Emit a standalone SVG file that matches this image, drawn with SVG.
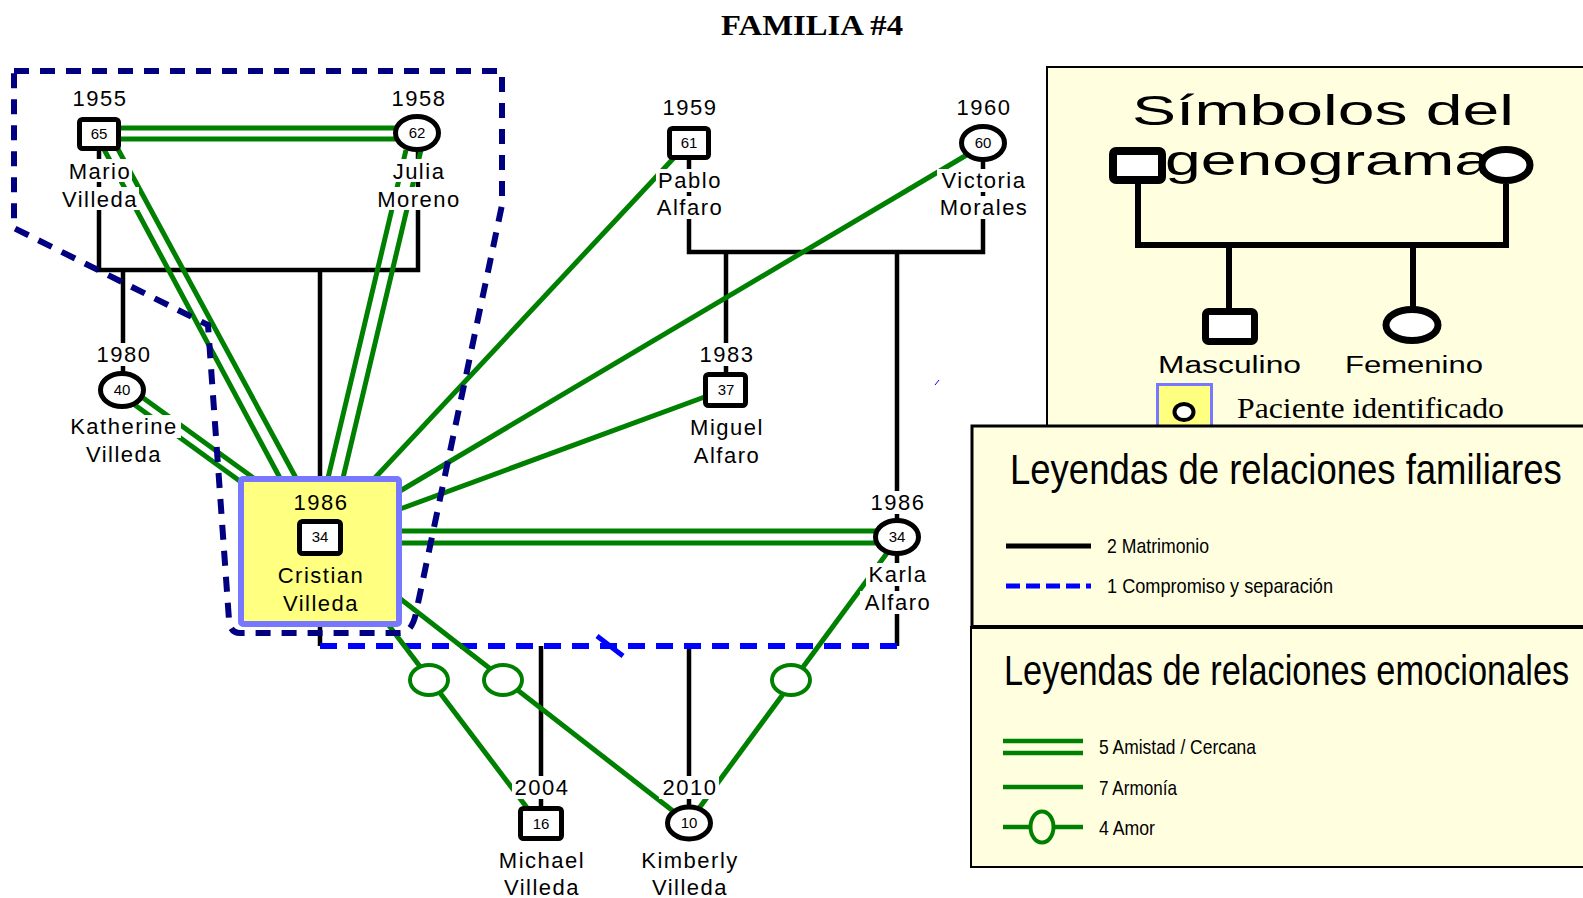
<svg xmlns="http://www.w3.org/2000/svg" width="1583" height="898" viewBox="0 0 1583 898">
<style>
.lbl{font-family:'Liberation Sans',Arial,sans-serif;font-size:22px;letter-spacing:1.5px;text-anchor:middle;fill:#000}
.age{font-family:'Liberation Sans',Arial,sans-serif;font-size:15px;text-anchor:middle;fill:#000}
.bg{fill:#fff}
.sq{fill:#fff;stroke:#000;stroke-width:5}
.ci{fill:#fff;stroke:#000;stroke-width:5}
.mar{fill:none;stroke:#000;stroke-width:4.5}
.g{stroke:#008000;stroke-width:5;fill:none}
.love{fill:#fff;stroke:#008000;stroke-width:4}
.leg{fill:#ffffe0;stroke:#000}
.narrow{font-family:'Liberation Sans',Arial,sans-serif;fill:#000}
</style>
<rect width="1583" height="898" fill="#fff"/>
<text x="812" y="35" font-family="'Liberation Serif','Times New Roman',serif" font-weight="bold" font-size="30" text-anchor="middle" textLength="182" lengthAdjust="spacingAndGlyphs">FAMILIA #4</text>

<g id="connectors">
  <path class="mar" d="M99 150 V270 H418 V150"/>
  <path class="mar" d="M123 270 V373"/>
  <path class="mar" d="M320 270 V477 M320 626 V646"/>
  <path class="mar" d="M689 158 V252 H983 V158"/>
  <path class="mar" d="M726 252 V373"/>
  <path class="mar" d="M897 252 V646"/>
  <path class="mar" d="M541 646 V807"/>
  <path class="mar" d="M689 646 V807"/>
  <path d="M320 646 H897" stroke="#0000ff" stroke-width="6" stroke-dasharray="17 11" fill="none"/>
  <path d="M597 636 L623 656" stroke="#0000ff" stroke-width="5"/>
  <path d="M935 385 L939 380" stroke="#0000ff" stroke-width="1"/>
  <path class="g" d="M99 128 H417 M99 139 H417"/>
  <path class="g" d="M99 140 L280 478 M113 140 L296 478"/>
  <path class="g" d="M406 150 L328 478 M421 150 L343 478"/>
  <path class="g" d="M135 392 L255 479 M128 400 L248 487"/>
  <path class="g" d="M400 531 H897 M400 543 H897"/>
  <path class="g" d="M685 146 L372 481"/>
  <path class="g" d="M970 153 L400 491"/>
  <path class="g" d="M710 395 L400 509"/>
  <path class="g" d="M384 619 L531 813"/>
  <path class="g" d="M398 597 L682 818"/>
  <path class="g" d="M890 549 L697 811"/>
  <ellipse class="love" cx="429" cy="680" rx="19" ry="15"/>
  <ellipse class="love" cx="503" cy="680" rx="19" ry="15"/>
  <ellipse class="love" cx="791" cy="680" rx="19" ry="15"/>
  <path d="M14 71 L502 71 L502 205 L417 608 Q413 633 400 633 L240 633 Q230 633 229 620 L208 325 L14 228 Z" fill="none" stroke="#000080" stroke-width="6" stroke-dasharray="15 11"/>
</g>

<g id="mario">
  <rect class="bg" x="69" y="87" width="60" height="23"/>
  <text class="lbl" x="100" y="106">1955</text>
  <rect class="sq" x="79.5" y="119.5" width="39" height="29" rx="3"/>
  <text class="age" x="99" y="139">65</text>
  <rect class="bg" x="67" y="159" width="65" height="23"/>
  <text class="lbl" x="100" y="179">Mario</text>
  <rect class="bg" x="59" y="187" width="80" height="23"/>
  <text class="lbl" x="100" y="207">Villeda</text>
</g>

<g id="julia">
  <rect class="bg" x="388" y="87" width="60" height="23"/>
  <text class="lbl" x="419" y="106">1958</text>
  <ellipse class="ci" cx="417" cy="133" rx="21.5" ry="16.5"/>
  <text class="age" x="417" y="138">62</text>
  <rect class="bg" x="391" y="159" width="56" height="23"/>
  <text class="lbl" x="419" y="179">Julia</text>
  <rect class="bg" x="374" y="187" width="90" height="23"/>
  <text class="lbl" x="419" y="207">Moreno</text>
</g>

<g id="pablo">
  <rect class="bg" x="659" y="96" width="60" height="23"/>
  <text class="lbl" x="690" y="115">1959</text>
  <rect class="sq" x="669.5" y="128.5" width="39" height="29" rx="3"/>
  <text class="age" x="689" y="148">61</text>
  <rect class="bg" x="656" y="169" width="66" height="23"/>
  <text class="lbl" x="690" y="188">Pablo</text>
  <rect class="bg" x="651" y="196" width="76" height="23"/>
  <text class="lbl" x="690" y="215">Alfaro</text>
</g>

<g id="victoria">
  <rect class="bg" x="953" y="96" width="60" height="23"/>
  <text class="lbl" x="984" y="115">1960</text>
  <ellipse class="ci" cx="983" cy="143" rx="21.5" ry="16.5"/>
  <text class="age" x="983" y="148">60</text>
  <rect class="bg" x="937" y="169" width="92" height="23"/>
  <text class="lbl" x="984" y="188">Victoria</text>
  <rect class="bg" x="936" y="196" width="95" height="23"/>
  <text class="lbl" x="984" y="215">Morales</text>
</g>

<g id="katherine">
  <rect class="bg" x="93" y="343" width="60" height="23"/>
  <text class="lbl" x="124" y="362">1980</text>
  <ellipse class="ci" cx="122" cy="390" rx="21.5" ry="16.5"/>
  <text class="age" x="122" y="395">40</text>
  <rect class="bg" x="67" y="415" width="114" height="23"/>
  <text class="lbl" x="124" y="434">Katherine</text>
  <rect class="bg" x="84" y="443" width="80" height="23"/>
  <text class="lbl" x="124" y="462">Villeda</text>
</g>

<g id="cristian">
  <rect x="241" y="479" width="158" height="145" fill="#ffff80" stroke="#7777ff" stroke-width="6" rx="2"/>
  <text class="lbl" x="321" y="510">1986</text>
  <rect class="sq" x="299.5" y="521.5" width="41" height="32" rx="3"/>
  <text class="age" x="320" y="542">34</text>
  <text class="lbl" x="321" y="583">Cristian</text>
  <text class="lbl" x="321" y="611">Villeda</text>
</g>

<g id="miguel">
  <rect class="bg" x="696" y="343" width="60" height="23"/>
  <text class="lbl" x="727" y="362">1983</text>
  <rect class="sq" x="705.5" y="374.5" width="40" height="31" rx="3"/>
  <text class="age" x="726" y="395">37</text>
  <rect class="bg" x="688" y="416" width="78" height="23"/>
  <text class="lbl" x="727" y="435">Miguel</text>
  <rect class="bg" x="689" y="444" width="76" height="23"/>
  <text class="lbl" x="727" y="463">Alfaro</text>
</g>

<g id="karla">
  <rect class="bg" x="867" y="491" width="60" height="23"/>
  <text class="lbl" x="898" y="510">1986</text>
  <ellipse class="ci" cx="897" cy="537" rx="21.5" ry="16.5"/>
  <text class="age" x="897" y="542">34</text>
  <rect class="bg" x="866" y="563" width="64" height="23"/>
  <text class="lbl" x="898" y="582">Karla</text>
  <rect class="bg" x="860" y="591" width="76" height="23"/>
  <text class="lbl" x="898" y="610">Alfaro</text>
</g>

<g id="michael">
  <rect class="bg" x="512" y="776" width="60" height="23"/>
  <text class="lbl" x="542" y="795">2004</text>
  <rect class="sq" x="520.5" y="808.5" width="41" height="30" rx="3"/>
  <text class="age" x="541" y="829">16</text>
  <rect class="bg" x="497" y="849" width="90" height="23"/>
  <text class="lbl" x="542" y="868">Michael</text>
  <rect class="bg" x="502" y="876" width="80" height="23"/>
  <text class="lbl" x="542" y="895">Villeda</text>
</g>

<g id="kimberly">
  <rect class="bg" x="659" y="776" width="60" height="23"/>
  <text class="lbl" x="690" y="795">2010</text>
  <ellipse class="ci" cx="689" cy="823" rx="21.5" ry="16"/>
  <text class="age" x="689" y="828">10</text>
  <rect class="bg" x="639" y="849" width="102" height="23"/>
  <text class="lbl" x="690" y="868">Kimberly</text>
  <rect class="bg" x="650" y="876" width="80" height="23"/>
  <text class="lbl" x="690" y="895">Villeda</text>
</g>

<g id="legend-symbols">
  <rect class="leg" x="1047" y="67" width="560" height="370" stroke-width="2"/>
  <text class="narrow" x="1132" y="125" font-size="43" textLength="382" lengthAdjust="spacingAndGlyphs">Símbolos del</text>
  <text class="narrow" x="1165" y="175" font-size="43" textLength="325" lengthAdjust="spacingAndGlyphs">genograma</text>
  <path d="M1138 184 V245 H1506 V184 M1229 245 V312 M1413 245 V308" fill="none" stroke="#000" stroke-width="6"/>
  <rect x="1113" y="151" width="49" height="29" rx="3" fill="#fff" stroke="#000" stroke-width="8"/>
  <ellipse cx="1506" cy="165" rx="24" ry="15.5" fill="#fff" stroke="#000" stroke-width="7"/>
  <rect x="1205.5" y="311.5" width="49" height="30" rx="3" fill="#fff" stroke="#000" stroke-width="7"/>
  <ellipse cx="1412" cy="325" rx="26" ry="15.5" fill="#fff" stroke="#000" stroke-width="7"/>
  <text class="narrow" x="1158" y="373" font-size="23" textLength="143" lengthAdjust="spacingAndGlyphs">Masculino</text>
  <text class="narrow" x="1345" y="373" font-size="23" textLength="138" lengthAdjust="spacingAndGlyphs">Femenino</text>
  <rect x="1157.5" y="384.5" width="54" height="50" fill="#ffff80" stroke="#7777ff" stroke-width="3"/>
  <ellipse cx="1184" cy="412" rx="9.5" ry="8" fill="#fff" stroke="#000" stroke-width="4"/>
  <text x="1237" y="418" font-family="'Liberation Serif','Times New Roman',serif" font-size="30" textLength="267" lengthAdjust="spacingAndGlyphs">Paciente identificado</text>
</g>

<g id="legend-family">
  <rect class="leg" x="972" y="426" width="620" height="201" stroke-width="3"/>
  <text class="narrow" transform="translate(1010 484) scale(0.849 1)" font-size="43">Leyendas de relaciones familiares</text>
  <path d="M1006 546 H1091" stroke="#000" stroke-width="5"/>
  <text class="narrow" x="1107" y="553" font-size="21" textLength="102" lengthAdjust="spacingAndGlyphs">2 Matrimonio</text>
  <path d="M1006 586 H1091" stroke="#0000ff" stroke-width="5" stroke-dasharray="14 6"/>
  <text class="narrow" x="1107" y="593" font-size="21" textLength="226" lengthAdjust="spacingAndGlyphs">1 Compromiso y separación</text>
</g>

<g id="legend-emotional">
  <rect class="leg" x="971" y="627" width="620" height="240" stroke-width="2"/>
  <path d="M971 627 H1583" stroke="#000" stroke-width="4"/>
  <text class="narrow" transform="translate(1004 685) scale(0.799 1)" font-size="43">Leyendas de relaciones emocionales</text>
  <path d="M1003 741 H1083 M1003 753 H1083" stroke="#008000" stroke-width="4.5"/>
  <text class="narrow" x="1099" y="754" font-size="21" textLength="157" lengthAdjust="spacingAndGlyphs">5 Amistad / Cercana</text>
  <path d="M1003 787 H1083" stroke="#008000" stroke-width="4.5"/>
  <text class="narrow" x="1099" y="795" font-size="21" textLength="78" lengthAdjust="spacingAndGlyphs">7 Armonía</text>
  <path d="M1003 827 H1083" stroke="#008000" stroke-width="4.5"/>
  <ellipse cx="1042" cy="827" rx="11.5" ry="15.5" fill="#ffffe0" stroke="#008000" stroke-width="4"/>
  <text class="narrow" x="1099" y="835" font-size="21" textLength="56" lengthAdjust="spacingAndGlyphs">4 Amor</text>
</g>
</svg>
